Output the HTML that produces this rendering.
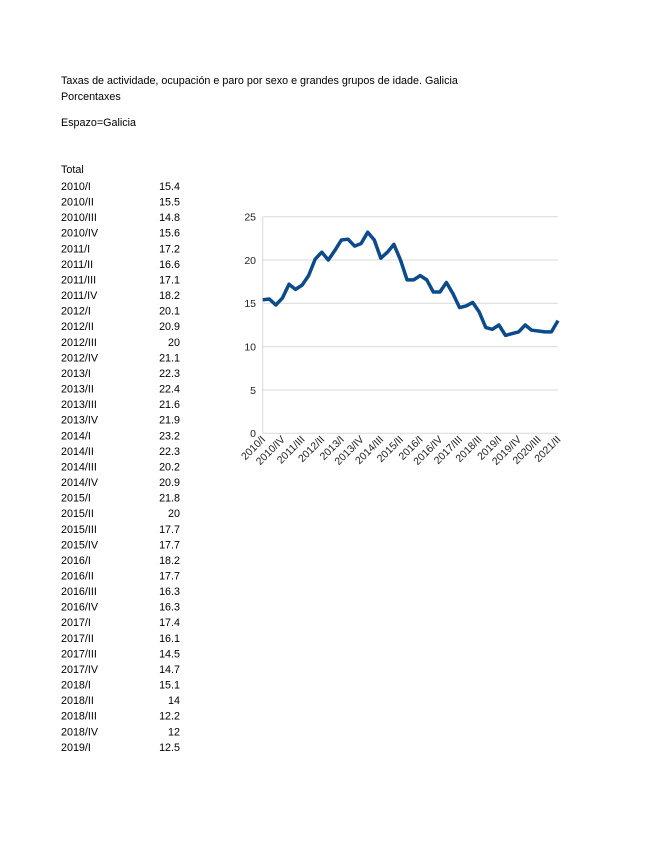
<!DOCTYPE html>
<html><head><meta charset="utf-8"><style>
html,body{margin:0;padding:0;background:#fff}
svg{display:block;font-family:"Liberation Sans",Arial,sans-serif}
</style></head><body>
<svg width="655" height="848" viewBox="0 0 655 848" xmlns="http://www.w3.org/2000/svg">
<g font-size="10.75" fill="#000">
<text x="61" y="84">Taxas de actividade, ocupación e paro por sexo e grandes grupos de idade. Galicia</text>
<text x="61" y="100">Porcentaxes</text>
<text x="61" y="126">Espazo=Galicia</text>
<text x="61" y="173">Total</text>
</g>
<g font-size="10.75" fill="#000">
<text x="61" y="190">2010/I</text><text x="180" y="190" text-anchor="end">15.4</text>
<text x="61" y="205.6">2010/II</text><text x="180" y="205.6" text-anchor="end">15.5</text>
<text x="61" y="221.2">2010/III</text><text x="180" y="221.2" text-anchor="end">14.8</text>
<text x="61" y="236.7">2010/IV</text><text x="180" y="236.7" text-anchor="end">15.6</text>
<text x="61" y="252.3">2011/I</text><text x="180" y="252.3" text-anchor="end">17.2</text>
<text x="61" y="267.9">2011/II</text><text x="180" y="267.9" text-anchor="end">16.6</text>
<text x="61" y="283.5">2011/III</text><text x="180" y="283.5" text-anchor="end">17.1</text>
<text x="61" y="299.1">2011/IV</text><text x="180" y="299.1" text-anchor="end">18.2</text>
<text x="61" y="314.6">2012/I</text><text x="180" y="314.6" text-anchor="end">20.1</text>
<text x="61" y="330.2">2012/II</text><text x="180" y="330.2" text-anchor="end">20.9</text>
<text x="61" y="345.8">2012/III</text><text x="180" y="345.8" text-anchor="end">20</text>
<text x="61" y="361.4">2012/IV</text><text x="180" y="361.4" text-anchor="end">21.1</text>
<text x="61" y="377">2013/I</text><text x="180" y="377" text-anchor="end">22.3</text>
<text x="61" y="392.5">2013/II</text><text x="180" y="392.5" text-anchor="end">22.4</text>
<text x="61" y="408.1">2013/III</text><text x="180" y="408.1" text-anchor="end">21.6</text>
<text x="61" y="423.7">2013/IV</text><text x="180" y="423.7" text-anchor="end">21.9</text>
<text x="61" y="439.3">2014/I</text><text x="180" y="439.3" text-anchor="end">23.2</text>
<text x="61" y="454.9">2014/II</text><text x="180" y="454.9" text-anchor="end">22.3</text>
<text x="61" y="470.4">2014/III</text><text x="180" y="470.4" text-anchor="end">20.2</text>
<text x="61" y="486">2014/IV</text><text x="180" y="486" text-anchor="end">20.9</text>
<text x="61" y="501.6">2015/I</text><text x="180" y="501.6" text-anchor="end">21.8</text>
<text x="61" y="517.2">2015/II</text><text x="180" y="517.2" text-anchor="end">20</text>
<text x="61" y="532.8">2015/III</text><text x="180" y="532.8" text-anchor="end">17.7</text>
<text x="61" y="548.3">2015/IV</text><text x="180" y="548.3" text-anchor="end">17.7</text>
<text x="61" y="563.9">2016/I</text><text x="180" y="563.9" text-anchor="end">18.2</text>
<text x="61" y="579.5">2016/II</text><text x="180" y="579.5" text-anchor="end">17.7</text>
<text x="61" y="595.1">2016/III</text><text x="180" y="595.1" text-anchor="end">16.3</text>
<text x="61" y="610.7">2016/IV</text><text x="180" y="610.7" text-anchor="end">16.3</text>
<text x="61" y="626.2">2017/I</text><text x="180" y="626.2" text-anchor="end">17.4</text>
<text x="61" y="641.8">2017/II</text><text x="180" y="641.8" text-anchor="end">16.1</text>
<text x="61" y="657.4">2017/III</text><text x="180" y="657.4" text-anchor="end">14.5</text>
<text x="61" y="673">2017/IV</text><text x="180" y="673" text-anchor="end">14.7</text>
<text x="61" y="688.6">2018/I</text><text x="180" y="688.6" text-anchor="end">15.1</text>
<text x="61" y="704.1">2018/II</text><text x="180" y="704.1" text-anchor="end">14</text>
<text x="61" y="719.7">2018/III</text><text x="180" y="719.7" text-anchor="end">12.2</text>
<text x="61" y="735.3">2018/IV</text><text x="180" y="735.3" text-anchor="end">12</text>
<text x="61" y="750.9">2019/I</text><text x="180" y="750.9" text-anchor="end">12.5</text>
</g>
<g stroke="#d9d9d9" stroke-width="1">
<line x1="262.7" y1="216.7" x2="558" y2="216.7"/>
<line x1="262.7" y1="260" x2="558" y2="260"/>
<line x1="262.7" y1="303.3" x2="558" y2="303.3"/>
<line x1="262.7" y1="346.7" x2="558" y2="346.7"/>
<line x1="262.7" y1="390" x2="558" y2="390"/>
<line x1="262.7" y1="216.7" x2="262.7" y2="433.3"/>
<line x1="262.7" y1="433.3" x2="558" y2="433.3"/>
</g>
<g font-size="10.5" fill="#222" text-anchor="end">
<text x="256" y="220.5">25</text>
<text x="256" y="263.8">20</text>
<text x="256" y="307.1">15</text>
<text x="256" y="350.5">10</text>
<text x="256" y="393.8">5</text>
<text x="256" y="437.1">0</text>
</g>
<polyline fill="none" stroke="#0b4a8b" stroke-width="3.5" stroke-linejoin="round" points="262.7,299.8 269.3,299.0 275.8,305.0 282.4,298.1 289.0,284.2 295.5,289.4 302.1,285.1 308.6,275.6 315.2,259.1 321.8,252.2 328.3,260.0 334.9,250.4 341.4,240.0 348.0,239.2 354.6,246.1 361.1,243.5 367.7,232.2 374.3,240.0 380.8,258.2 387.4,252.2 393.9,244.4 400.5,260.0 407.1,279.9 413.6,279.9 420.2,275.6 426.8,279.9 433.3,292.0 439.9,292.0 446.4,282.5 453.0,293.8 459.6,307.6 466.1,305.9 472.7,302.4 479.2,312.0 485.8,327.6 492.4,329.3 498.9,325.0 505.5,335.4 512.1,333.6 518.6,331.9 525.2,325.0 531.7,330.2 538.3,331.0 544.9,331.9 551.4,331.9 558.0,320.6"/>
<g font-size="10.5" fill="#222" text-anchor="end">
<text transform="translate(266,440) rotate(-45)">2010/I</text>
<text transform="translate(285.7,440) rotate(-45)">2010/IV</text>
<text transform="translate(305.4,440) rotate(-45)">2011/III</text>
<text transform="translate(325.1,440) rotate(-45)">2012/II</text>
<text transform="translate(344.7,440) rotate(-45)">2013/I</text>
<text transform="translate(364.4,440) rotate(-45)">2013/IV</text>
<text transform="translate(384.1,440) rotate(-45)">2014/III</text>
<text transform="translate(403.8,440) rotate(-45)">2015/II</text>
<text transform="translate(423.5,440) rotate(-45)">2016/I</text>
<text transform="translate(443.2,440) rotate(-45)">2016/IV</text>
<text transform="translate(462.9,440) rotate(-45)">2017/III</text>
<text transform="translate(482.5,440) rotate(-45)">2018/II</text>
<text transform="translate(502.2,440) rotate(-45)">2019/I</text>
<text transform="translate(521.9,440) rotate(-45)">2019/IV</text>
<text transform="translate(541.6,440) rotate(-45)">2020/III</text>
<text transform="translate(561.3,440) rotate(-45)">2021/II</text>
</g>
</svg>
</body></html>
